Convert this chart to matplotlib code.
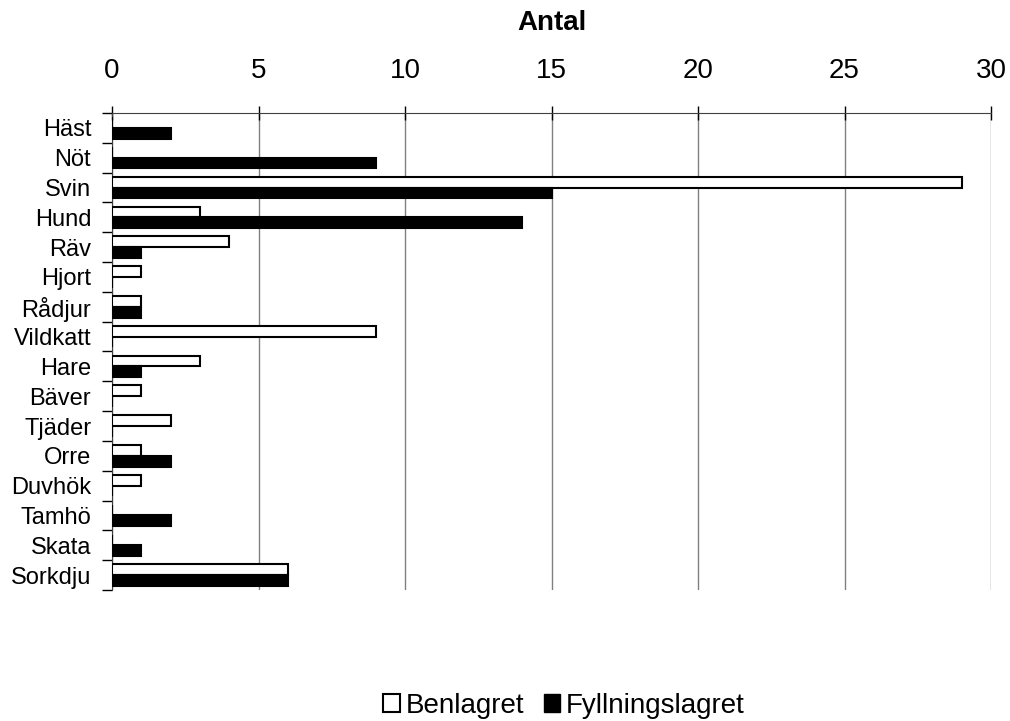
import numpy as np
import matplotlib.pyplot as plt
from matplotlib.patches import Patch

plt.rcParams["font.family"] = ["Liberation Sans", "DejaVu Sans"]

arter = ["Häst", "Nöt", "Svin", "Hund", "Räv", "Hjort", "Rådjur", "Vildkatt",
         "Hare", "Bäver", "Tjäder", "Orre", "Duvhök", "Tamhö", "Skata", "Sorkdju"]
benlagret = [0, 0, 29, 3, 4, 1, 1, 9, 3, 1, 2, 1, 1, 0, 0, 6]
fyllningslagret = [2, 9, 15, 14, 1, 0, 1, 0, 1, 0, 0, 2, 0, 2, 1, 6]

fig = plt.figure(figsize=(10.1, 7.21), dpi=100)
ax = fig.add_axes([0.1109, 0.1817, 0.8703, 0.6616])

y = np.arange(len(arter))
h = 0.36
ax.barh(y - h / 2, benlagret, height=h, color="white", edgecolor="black", linewidth=1.5, zorder=3)
ax.barh(y + h / 2, fyllningslagret, height=h, color="black", edgecolor="black", linewidth=1.5, zorder=3)

ax.set_ylim(len(arter) - 0.5, -0.5)
ax.set_xlim(0, 30)
ax.xaxis.tick_top()
ax.xaxis.set_label_position("top")
ax.set_xticks(np.arange(0, 31, 5))
ax.tick_params(axis="x", direction="inout", length=10, width=1, pad=16, labelsize=20)
ax.set_xlabel("Antal", fontsize=20, fontweight="bold", labelpad=20)

# category names sit at band centres, the short ticks mark band edges
ax.set_yticks(y)
ax.set_yticklabels(arter, fontsize=17)
ax.tick_params(axis="y", length=0, pad=15)
ax.set_yticks(np.arange(-0.5, len(arter)), minor=True)
ax.tick_params(axis="y", which="minor", length=7, width=1, direction="out")

ax.grid(axis="x", color="#808080", linewidth=1, zorder=0)
for s in ["right", "bottom"]:
    ax.spines[s].set_visible(False)
ax.spines["top"].set_color("#404040")
ax.spines["left"].set_color("#404040")

handles = [Patch(facecolor="white", edgecolor="black", linewidth=1.5, label="Benlagret"),
           Patch(facecolor="black", edgecolor="black", label="Fyllningslagret")]
fig.legend(handles=handles, loc="center", bbox_to_anchor=(564 / 1010, 1 - 706 / 721), ncol=2,
           frameon=False, fontsize=20, handlelength=0.6, handleheight=0.6,
           handletextpad=0.2, columnspacing=0.7, borderpad=0)

fig.savefig("out.png", dpi=100)
